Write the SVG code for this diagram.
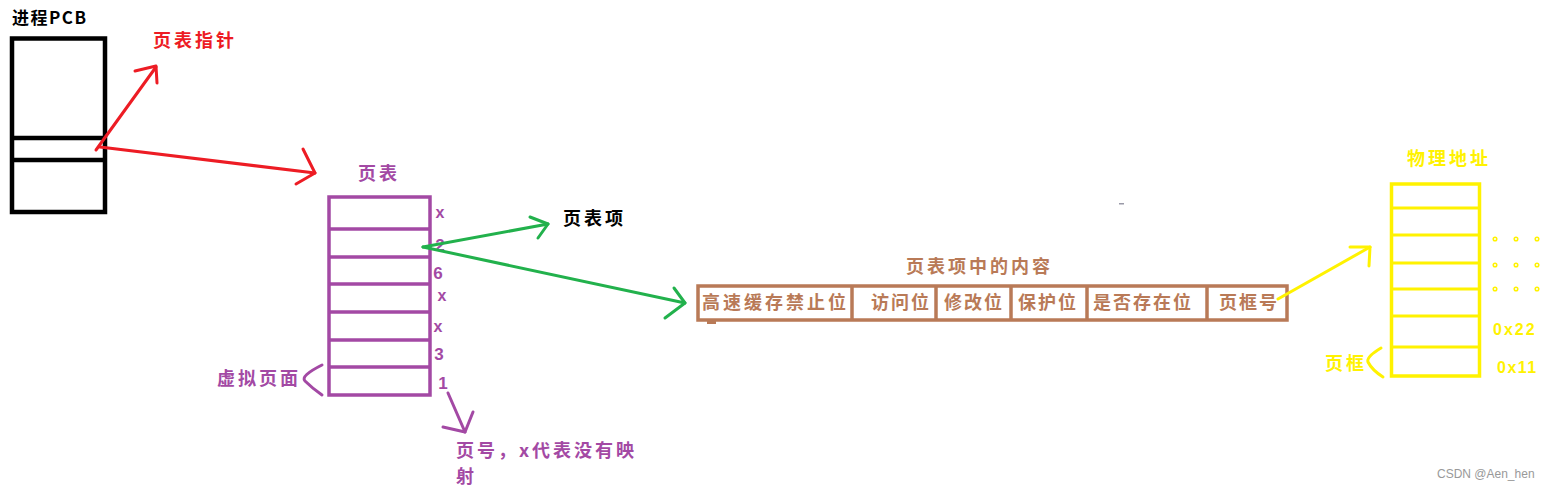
<svg xmlns="http://www.w3.org/2000/svg" width="1548" height="490" viewBox="0 0 1548 490">
<style>
.t{font-family:"Noto Sans CJK SC","Noto Sans",sans-serif;font-weight:700;font-size:18px;letter-spacing:3px}
.n{font-family:"Liberation Sans","Noto Sans",sans-serif;font-weight:700;font-size:16px}
.line{fill:none;stroke-linecap:round;stroke-linejoin:round}
.red{stroke:#ED1C24;stroke-width:3}
.green{stroke:#22B14C;stroke-width:3}
.purple{stroke:#A349A4;stroke-width:3}
.yellow{stroke:#FFF200;stroke-width:3}
</style>
<rect width="1548" height="490" fill="#ffffff"/>

<g id="pcb">
  <text class="t" x="12" y="24" fill="#000" style="font-size:17px;letter-spacing:1.5px">进程PCB</text>
  <rect x="12" y="38.5" width="93" height="173.5" fill="none" stroke="#000" stroke-width="4.5"/>
  <line x1="12" y1="138" x2="105" y2="138" stroke="#000" stroke-width="4.5"/>
  <line x1="12" y1="160" x2="105" y2="160" stroke="#000" stroke-width="4.5"/>
</g>

<g id="page-table-pointer-label">
  <text class="t" x="153" y="47" fill="#ED1C24">页表指针</text>
</g>

<g id="page-table">
  <text class="t" x="358" y="180" fill="#A349A4">页表</text>
  <rect x="329" y="197" width="101" height="198" fill="none" stroke="#A349A4" stroke-width="3.5"/>
  <g stroke="#A349A4" stroke-width="3.5">
    <line x1="329" y1="229" x2="430" y2="229"/>
    <line x1="329" y1="257" x2="430" y2="257"/>
    <line x1="329" y1="284" x2="430" y2="284"/>
    <line x1="329" y1="312" x2="430" y2="312"/>
    <line x1="329" y1="340" x2="430" y2="340"/>
    <line x1="329" y1="367" x2="430" y2="367"/>
  </g>
  <g class="n" fill="#A349A4" text-anchor="middle">
    <text x="440" y="218">x</text>
    <text x="440" y="251" style="font-size:17px">2</text>
    <text x="438" y="279" style="font-size:17px">6</text>
    <text x="442" y="301">x</text>
    <text x="438" y="332">x</text>
    <text x="439" y="360" style="font-size:17px">3</text>
    <text x="443" y="389" style="font-size:17px">1</text>
  </g>
  <text class="t" x="217" y="385" fill="#A349A4">虚拟页面</text>
  <path class="line purple" d="M322,365 Q300,376 305,381 Q312,388 322,395"/>
  <text class="t" x="456" y="457" fill="#A349A4">页号，x代表没有映</text>
  <text class="t" x="456" y="483" fill="#A349A4">射</text>
</g>

<g id="pte-label">
  <text class="t" x="563" y="225" fill="#000">页表项</text>
</g>

<g id="pte-content">
  <text class="t" x="906" y="273" fill="#B97A57">页表项中的内容</text>
  <rect x="698" y="286" width="589" height="34" fill="none" stroke="#B97A57" stroke-width="3.5"/>
  <g stroke="#B97A57" stroke-width="3.5">
    <line x1="852" y1="286" x2="852" y2="320"/>
    <line x1="936" y1="286" x2="936" y2="320"/>
    <line x1="1011" y1="286" x2="1011" y2="320"/>
    <line x1="1087" y1="286" x2="1087" y2="320"/>
    <line x1="1207" y1="286" x2="1207" y2="320"/>
  </g>
  <g class="t" fill="#B97A57">
    <text x="702" y="309">高速缓存禁止位</text>
    <text x="871" y="309" style="letter-spacing:2px">访问位</text>
    <text x="944" y="309" style="letter-spacing:2px">修改位</text>
    <text x="1018" y="309" style="letter-spacing:2px">保护位</text>
    <text x="1093" y="309" style="letter-spacing:2px">是否存在位</text>
    <text x="1219" y="309" style="letter-spacing:2px">页框号</text>
  </g>
  <rect x="707" y="321" width="9" height="3" fill="#B97A57"/>
</g>

<g id="physical-memory">
  <text class="t" x="1407" y="165" fill="#FFF200">物理地址</text>
  <rect x="1391.5" y="184" width="88" height="192" fill="none" stroke="#FFF200" stroke-width="3.5"/>
  <g stroke="#FFF200" stroke-width="3">
    <line x1="1391" y1="208" x2="1480" y2="208"/>
    <line x1="1391" y1="235" x2="1480" y2="235"/>
    <line x1="1391" y1="263" x2="1480" y2="263"/>
    <line x1="1391" y1="289" x2="1480" y2="289"/>
    <line x1="1391" y1="316" x2="1480" y2="316"/>
    <line x1="1391" y1="347" x2="1480" y2="347"/>
  </g>
  <g fill="none" stroke="#FFF200" stroke-width="1.5">
    <circle cx="1495" cy="239" r="1.8"/><circle cx="1516" cy="239" r="1.8"/><circle cx="1537" cy="239" r="1.8"/>
    <circle cx="1495" cy="265" r="1.8"/><circle cx="1516" cy="265" r="1.8"/><circle cx="1537" cy="265" r="1.8"/>
    <circle cx="1495" cy="289" r="1.8"/><circle cx="1516" cy="289" r="1.8"/><circle cx="1537" cy="289" r="1.8"/>
  </g>
  <text class="n" x="1493" y="335" fill="#FFF200" style="letter-spacing:2px">0x22</text>
  <text class="n" x="1497" y="373" fill="#FFF200" style="letter-spacing:1.5px">0x11</text>
  <text class="t" x="1325" y="370" fill="#FFF200">页框</text>
  <path class="line yellow" d="M1381,348 Q1366,357 1368,362 Q1372,370 1383,377"/>
</g>

<g id="connectors">
  <g class="line red">
    <path d="M96,150 L156,67"/>
    <path d="M135,71 L156,66 L157,83"/>
    <path d="M100,147 L315,173"/>
    <path d="M303,149 L315,173 L296,184"/>
  </g>
  <g class="line green">
    <path d="M423,247 L548,224"/>
    <path d="M530,217 L548,224 L538,238"/>
    <path d="M423,247 L685,303"/>
    <path d="M674,288 L685,303 L665,318"/>
  </g>
  <g class="line yellow">
    <path d="M1278,299 L1370,247"/>
    <path d="M1350,247 L1370,247 L1369,266"/>
  </g>
  <g class="line purple">
    <path d="M448,393 L465,432"/>
    <path d="M473,412 L465,432 L443,427"/>
  </g>
</g>

<rect x="1119" y="203" width="5" height="1.5" fill="#9a9aa8"/>
<text x="1437" y="478" font-family="Liberation Sans, sans-serif" font-size="12" fill="#999">CSDN @Aen_hen</text>
</svg>
